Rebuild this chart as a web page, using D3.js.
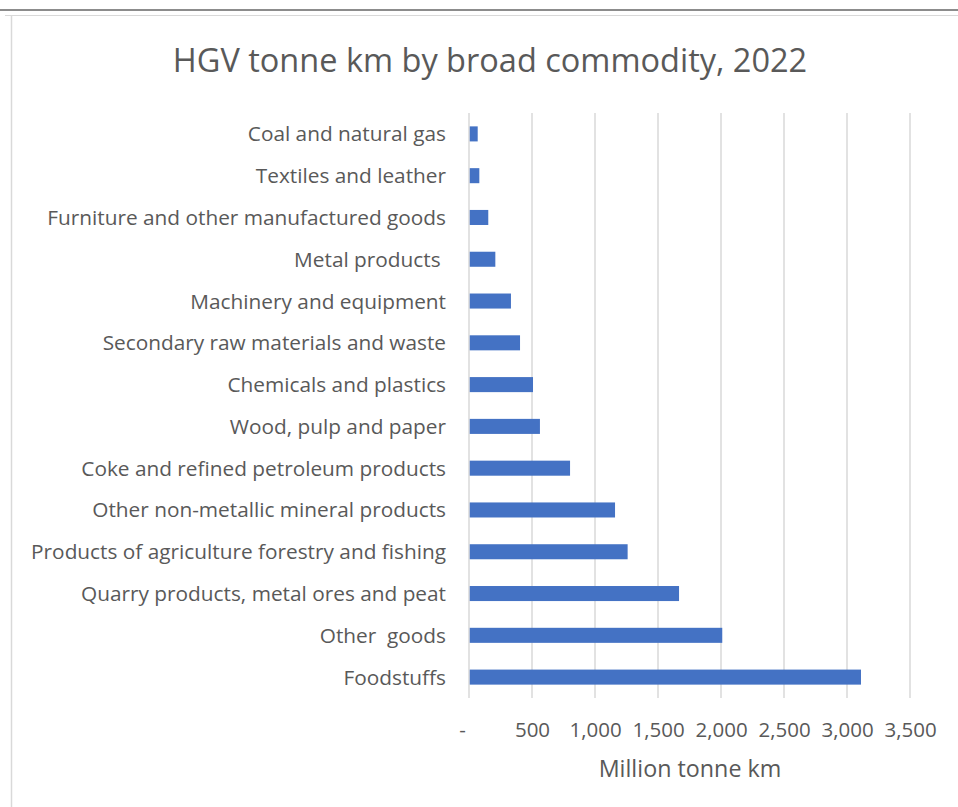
<!DOCTYPE html>
<html>
<head>
<meta charset="utf-8">
<script src="https://cdn.jsdelivr.net/npm/d3@7"></script>
<style>
  html, body { margin: 0; padding: 0; background: #fff; }
  svg { display: block; }
  text { font-family: "Open Sans", "Noto Sans", sans-serif; fill: #595959; white-space: pre; }
</style>
</head>
<body>
<svg id="chart" width="958" height="807"></svg>
<script>
// HGV tonne km by broad commodity, 2022 (million tonne km)
const categories = [
  "Coal and natural gas",
  "Textiles and leather",
  "Furniture and other manufactured goods",
  "Metal products ",
  "Machinery and equipment",
  "Secondary raw materials and waste",
  "Chemicals and plastics",
  "Wood, pulp and paper",
  "Coke and refined petroleum products",
  "Other non-metallic mineral products",
  "Products of agriculture forestry and fishing",
  "Quarry products, metal ores and peat",
  "Other  goods",
  "Foodstuffs"
];
const values = [69, 82, 153, 209, 333, 405, 508, 563, 802, 1159, 1259, 1667, 2010, 3111];
const tickValues = [0, 500, 1000, 1500, 2000, 2500, 3000, 3500];
const tickLabels = ["-", "500", "1,000", "1,500", "2,000", "2,500", "3,000", "3,500"];
const title = "HGV tonne km by broad commodity, 2022";
const xTitle = "Million tonne km";

const svg = d3.select("#chart");

// outer frame
svg.append("line").attr("x1", 0).attr("x2", 958).attr("y1", 10).attr("y2", 10)
  .attr("stroke", "#8c8c8c").attr("stroke-width", 2);
svg.append("line").attr("x1", 5).attr("x2", 958).attr("y1", 15.5).attr("y2", 15.5)
  .attr("stroke", "#d9d9d9").attr("stroke-width", 1);
svg.append("line").attr("x1", 11.5).attr("x2", 11.5).attr("y1", 15).attr("y2", 807)
  .attr("stroke", "#d9d9d9").attr("stroke-width", 1.5);

const plot = { left: 469, right: 910, top: 113, bottom: 698 };

const x = d3.scaleLinear().domain([0, 3500]).range([plot.left, plot.right]);
const y = d3.scaleBand().domain(categories).range([plot.top, plot.bottom]).paddingInner(0.64).paddingOuter(0.32);

// gridlines
svg.append("g").selectAll("line").data(tickValues).join("line")
  .attr("x1", d => x(d)).attr("x2", d => x(d))
  .attr("y1", plot.top).attr("y2", plot.bottom)
  .attr("stroke", "#d9d9d9").attr("stroke-width", 1.5);

// bars
svg.append("g").selectAll("rect").data(values).join("rect")
  .attr("x", x(0) + 0.75)
  .attr("y", (d, i) => y(categories[i]))
  .attr("width", d => x(d) - x(0) - 0.75)
  .attr("height", y.bandwidth())
  .attr("fill", "#4472c4");

// category labels
svg.append("g").selectAll("text").data(categories).join("text")
  .attr("x", 446)
  .attr("y", d => y(d) + y.bandwidth() / 2)
  .attr("dy", "0.36em")
  .attr("text-anchor", "end")
  .attr("font-size", 20.8)
  .text(d => d);

// value axis labels
const xAxis = d3.axisBottom(x).tickValues(tickValues).tickFormat((d, i) => tickLabels[i]).tickSize(0);
const gx = svg.append("g").attr("transform", `translate(0, ${plot.bottom})`).call(xAxis);
gx.select(".domain").remove();
gx.selectAll("text")
  .attr("y", 39)
  .attr("dy", null)
  .attr("font-size", 20.5)
  .attr("font-family", null)
  .attr("fill", "#595959");
gx.selectAll(".tick").filter(d => d === 0).select("text").attr("dx", -7);

// axis title
svg.append("text")
  .attr("x", 690).attr("y", 777)
  .attr("text-anchor", "middle")
  .attr("font-size", 23.3)
  .text(xTitle);

// chart title
svg.append("text")
  .attr("x", 490).attr("y", 72)
  .attr("text-anchor", "middle")
  .attr("font-size", 32.5)
  .text(title);
</script>
</body>
</html>
